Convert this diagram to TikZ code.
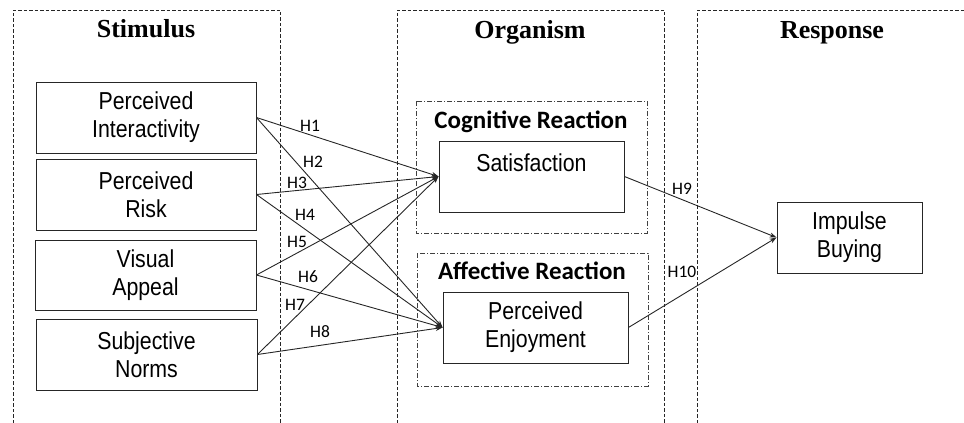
\documentclass[tikz,border=0pt]{standalone}
\usepackage{fontspec}
\setmainfont{Liberation Serif}
\newfontfamily\bodyfont[FakeStretch=0.87]{Liberation Sans}
\newfontfamily\calfont{Carlito}
\usetikzlibrary{arrows.meta}
\begin{document}
\begin{tikzpicture}[x=1pt,y=-1pt,
  outer/.style={draw=black!85, dash pattern=on 3.5pt off 2pt, line width=0.8pt},
  inner/.style={draw=black!75, dash pattern=on 5pt off 2pt on 1pt off 2pt, line width=0.7pt},
  box/.style={draw=black!85, line width=0.9pt, rectangle, inner sep=0pt, align=center,
    font=\bodyfont\fontsize{24.5}{28}\selectfont},
  title/.style={anchor=base, font=\bfseries\fontsize{26}{30}\selectfont},
  sub/.style={anchor=base, font=\calfont\bfseries\fontsize{25}{29}\selectfont},
  hl/.style={font=\calfont\fontsize{17.5}{19}\selectfont, inner sep=0pt},
  conn/.style={draw=black!85, line width=0.9pt, -{Stealth[length=7pt,width=5pt]}}
]
\useasboundingbox (0,0) rectangle (964,423);
% outer regions
\draw[outer] (13,423) -- (13,10) -- (280,10) -- (280,423);
\draw[outer] (397,423) -- (397,10) -- (664,10) -- (664,423);
\draw[outer] (697,423) -- (697,10) -- (964,10);
\node[title] (tstim) at (146,37) {Stimulus};
\node[title] (torg) at (530,38) {Organism};
\node[title] (tresp) at (832,38) {Response};
% inner groups
\draw[inner] (416,101) rectangle (647,233);
\draw[inner] (417,253) rectangle (648,386);
\node[sub] (tcog) at (531,128) {Cognitive Reaction};
\node[sub] (taff) at (532,279) {Affective Reaction};
% boxes
\node[box, minimum width=220pt, minimum height=71pt] (pi) at (146,117.5) {Perceived\\Interactivity};
\node[box, minimum width=220pt, minimum height=71pt] (pr) at (146,194.5) {Perceived\\Risk};
\node[box, minimum width=221pt, minimum height=70pt] (va) at (145.5,275) {Visual\\Appeal};
\node[box, minimum width=221pt, minimum height=71pt] (sn) at (146.5,354.5) {Subjective\\Norms};
\node[box, minimum width=185pt, minimum height=71pt] (sat) at (531.5,176.5) {Satisfaction\\~};
\node[box, minimum width=185pt, minimum height=71pt] (enj) at (535.5,327.5) {Perceived\\Enjoyment};
\node[box, minimum width=145pt, minimum height=71pt] (ib) at (849.5,237.5) {Impulse\\Buying};
% connectors
\draw[conn] (pi.east) -- (sat.west);
\draw[conn] (pi.east) -- (enj.west);
\draw[conn] (pr.east) -- (sat.west);
\draw[conn] (pr.east) -- (enj.west);
\draw[conn] (va.east) -- (sat.west);
\draw[conn] (va.east) -- (enj.west);
\draw[conn] (sn.east) -- (sat.west);
\draw[conn] (sn.east) -- (enj.west);
\draw[conn] (sat.east) -- (ib.west);
\draw[conn] (enj.east) -- (ib.west);
% labels
\node[hl] (h1) at (310,126) {H1};
\node[hl] (h2) at (313,162) {H2};
\node[hl] (h3) at (297,183) {H3};
\node[hl] (h4) at (305,215) {H4};
\node[hl] (h5) at (297,242) {H5};
\node[hl] (h6) at (308,277) {H6};
\node[hl] (h7) at (295,305) {H7};
\node[hl] (h8) at (320,332) {H8};
\node[hl] (h9) at (682,189) {H9};
\node[hl] (h10) at (682,272) {H10};
\end{tikzpicture}
\end{document}
